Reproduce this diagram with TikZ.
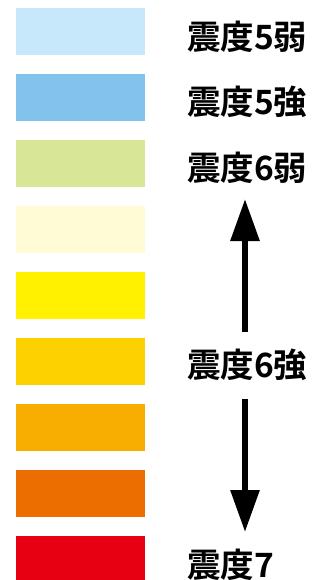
\documentclass[tikz,border=0pt]{standalone}
\usepackage{fontspec}
\newfontfamily\cjk{Noto Sans CJK JP}[BoldFont={Noto Sans CJK JP Bold}]
\usetikzlibrary{arrows.meta}
\definecolor{c1}{HTML}{C7E8FA}
\definecolor{c2}{HTML}{82C2EB}
\definecolor{c3}{HTML}{D8E698}
\definecolor{c4}{HTML}{FFFBD5}
\definecolor{c5}{HTML}{FFF100}
\definecolor{c6}{HTML}{FDD000}
\definecolor{c7}{HTML}{F8AE00}
\definecolor{c8}{HTML}{EC6D00}
\definecolor{c9}{HTML}{E60012}
\begin{document}
\begin{tikzpicture}[x=1pt,y=-1pt,
  swatch/.style={fill=#1,draw=none},
  lbl/.style={anchor=west,inner sep=0pt,font=\cjk\bfseries\fontsize{33.5}{34}\selectfont},
  bigarrow/.style={line width=6pt,-{Triangle[length=42pt 0 0,width=28pt 0 0]}}]
\useasboundingbox (0,0) rectangle (322,580);
\begin{scope}
\clip (0,0) rectangle (322,580);
\foreach \i/\c in {0/c1,1/c2,2/c3,3/c4,4/c5,5/c6,6/c7,7/c8,8/c9}{
  \fill[swatch=\c] (16,{8+66*\i}) rectangle (145,{55+66*\i});
}
\end{scope}
\node[lbl] (s5w) at (187,37) {震度5弱};
\node[lbl] (s5s) at (187,102) {震度5強};
\node[lbl] (s6w) at (187,168) {震度6弱};
\node[lbl] (s6s) at (187,365) {震度6強};
\node[lbl] (s7) at (187,565) {震度7};
\coordinate (upstart) at (245,332);
\coordinate (upend) at (245,199);
\coordinate (dnstart) at (245,399);
\coordinate (dnend) at (245,532);
\draw[bigarrow] (upstart) -- (upend);
\draw[bigarrow] (dnstart) -- (dnend);
\end{tikzpicture}
\end{document}
